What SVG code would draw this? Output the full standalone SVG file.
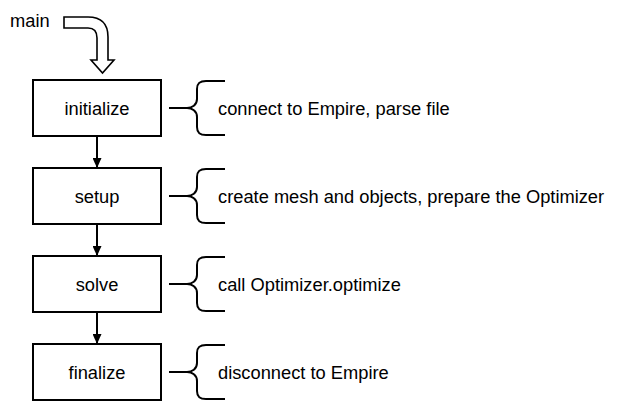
<svg xmlns="http://www.w3.org/2000/svg" width="621" height="413" viewBox="0 0 621 413">
<style>
text{font-family:"Liberation Sans",Arial,sans-serif;font-size:18.3px;fill:#000}
.box{fill:#fff;stroke:#000;stroke-width:2}
.brace{fill:none;stroke:#000;stroke-width:2}
.conn{stroke:#000;stroke-width:2;fill:none}
.mid{text-anchor:middle}
</style>
<defs>
<marker id="ah" markerWidth="10" markerHeight="9" refX="10" refY="4.5" orient="auto" markerUnits="userSpaceOnUse">
<path d="M0,0 L10,4.5 L0,9 Z" fill="#000"/>
</marker>
</defs>
<rect width="621" height="413" fill="#fff"/>
<g id="entry">
<text x="10" y="27">main</text>
<path d="M64,17 L88,17 Q108,17 108,37 L108,60 L114,60 L102.5,73 L91,60 L97,60 L97,38 Q97,28 88,28 L64,28 Z" fill="#fff" stroke="#000" stroke-width="1.6" stroke-linejoin="miter"/>
</g>
<g id="connectors">
<line class="conn" x1="97" y1="136" x2="97" y2="168" marker-end="url(#ah)"/>
<line class="conn" x1="97" y1="224" x2="97" y2="256" marker-end="url(#ah)"/>
<line class="conn" x1="97" y1="312" x2="97" y2="344" marker-end="url(#ah)"/>
</g>
<g id="initialize">
<rect class="box" x="33" y="80" width="128" height="56"/>
<text class="mid" x="97" y="115">initialize</text>
<path class="brace" d="M169,108 L187,108 C192,108 197,105 197,99 L197,89 C197,83 200,81 206,81 L225,81 M187,108 C192,108 197,111 197,117 L197,127 C197,133 200,135 206,135 L225,135"/>
<text x="218" y="115">connect to Empire, parse file</text>
</g>
<g id="setup">
<rect class="box" x="33" y="168" width="128" height="56"/>
<text class="mid" x="97" y="203">setup</text>
<path class="brace" d="M169,196 L187,196 C192,196 197,193 197,187 L197,177 C197,171 200,169 206,169 L225,169 M187,196 C192,196 197,199 197,205 L197,215 C197,221 200,223 206,223 L225,223"/>
<text x="218" y="203">create mesh and objects, prepare the Optimizer</text>
</g>
<g id="solve">
<rect class="box" x="33" y="256" width="128" height="56"/>
<text class="mid" x="97" y="291">solve</text>
<path class="brace" d="M169,284 L187,284 C192,284 197,281 197,275 L197,265 C197,259 200,257 206,257 L225,257 M187,284 C192,284 197,287 197,293 L197,303 C197,309 200,311 206,311 L225,311"/>
<text x="218" y="291">call Optimizer.optimize</text>
</g>
<g id="finalize">
<rect class="box" x="33" y="344" width="128" height="56"/>
<text class="mid" x="97" y="379">finalize</text>
<path class="brace" d="M169,372 L187,372 C192,372 197,369 197,363 L197,353 C197,347 200,345 206,345 L225,345 M187,372 C192,372 197,375 197,381 L197,391 C197,397 200,399 206,399 L225,399"/>
<text x="218" y="379">disconnect to Empire</text>
</g>
</svg>
